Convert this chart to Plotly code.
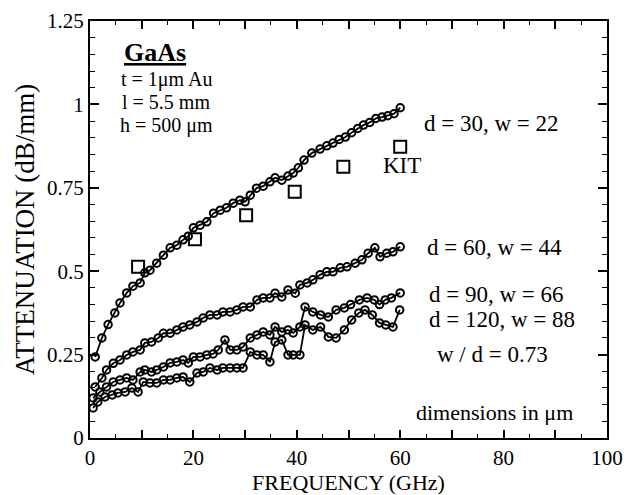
import plotly.graph_objects as go

# ---- data ----
f30 = [1.0, 2.3, 3.5, 4.8, 5.8, 7.1, 8.3, 9.7, 10.6, 11.6, 12.9, 14.2, 15.5, 16.8, 18.0, 19.0, 20.0,
       21.3, 22.6, 23.9, 25.2, 26.4, 27.7, 29.0, 30.0, 31.0, 32.2, 33.5, 34.8, 35.8, 37.1, 38.3, 39.3,
       40.3, 41.4, 42.9, 44.5, 45.8, 47.0, 48.2, 49.4, 50.6, 51.8, 52.9, 54.1, 55.3, 56.5, 57.6, 58.8, 60.0]
a30 = [0.243, 0.30, 0.34, 0.375, 0.405, 0.435, 0.455, 0.465, 0.495, 0.503, 0.524, 0.548, 0.57, 0.578,
       0.594, 0.605, 0.63, 0.638, 0.648, 0.674, 0.683, 0.69, 0.704, 0.713, 0.708, 0.728, 0.749, 0.755,
       0.768, 0.78, 0.773, 0.785, 0.794, 0.81, 0.833, 0.854, 0.866, 0.876, 0.884, 0.895, 0.902, 0.915,
       0.928, 0.938, 0.946, 0.958, 0.962, 0.966, 0.972, 0.99]

f60 = [1.0, 2.3, 3.2, 4.5, 5.8, 7.1, 8.3, 9.7, 10.6, 11.9, 13.2, 14.2, 15.5, 16.8, 18.0, 19.3, 20.7,
       21.9, 23.2, 24.6, 25.7, 27.1, 28.4, 29.6, 31.0, 32.3, 33.5, 34.8, 35.8, 37.1, 38.3, 39.7, 40.6,
       42.0, 43.1, 44.5, 45.8, 47.0, 48.4, 49.7, 51.3, 52.6, 53.8, 55.1, 56.1, 57.4, 58.6, 60.0]
a60 = [0.153, 0.18, 0.204, 0.224, 0.234, 0.249, 0.258, 0.264, 0.285, 0.288, 0.30, 0.314, 0.314, 0.324,
       0.333, 0.339, 0.348, 0.36, 0.369, 0.369, 0.378, 0.378, 0.384, 0.393, 0.393, 0.414, 0.42, 0.42,
       0.434, 0.423, 0.444, 0.434, 0.459, 0.465, 0.474, 0.489, 0.498, 0.498, 0.51, 0.513, 0.524, 0.534,
       0.554, 0.57, 0.543, 0.554, 0.558, 0.573]

f90 = [0.6, 1.9, 3.2, 4.5, 5.8, 7.1, 8.3, 9.7, 10.6, 11.9, 12.9, 14.2, 15.5, 16.8, 18.0, 19.0, 20.0,
       21.3, 22.6, 23.8, 24.8, 26.1, 27.1, 28.4, 29.6, 31.0, 32.3, 33.5, 34.8, 35.8, 37.1, 38.3, 39.3,
       40.6, 41.6, 43.1, 44.6, 46.1, 47.6, 49.2, 50.4, 52.1, 53.6, 55.0, 56.0, 57.1, 58.3, 60.0]
a90 = [0.12, 0.138, 0.153, 0.168, 0.174, 0.18, 0.174, 0.198, 0.204, 0.198, 0.204, 0.213, 0.225, 0.228,
       0.234, 0.225, 0.243, 0.243, 0.249, 0.252, 0.264, 0.294, 0.264, 0.264, 0.273, 0.30, 0.309, 0.318,
       0.309, 0.333, 0.318, 0.324, 0.315, 0.333, 0.393, 0.378, 0.369, 0.363, 0.384, 0.39, 0.40, 0.414,
       0.42, 0.414, 0.40, 0.414, 0.42, 0.435]

f120 = [0.6, 1.5, 2.9, 4.3, 5.4, 6.8, 8.1, 9.3, 10.3, 11.6, 12.9, 14.2, 15.5, 16.8, 18.0, 19.3, 20.7,
        21.9, 23.2, 24.6, 25.7, 27.1, 28.4, 29.6, 31.0, 32.3, 33.5, 34.8, 35.8, 37.1, 38.3, 39.3, 40.6,
        41.6, 43.1, 44.6, 46.1, 47.6, 49.2, 50.6, 52.0, 53.2, 54.6, 56.0, 57.2, 58.6, 59.9]
a120 = [0.09, 0.108, 0.123, 0.129, 0.135, 0.138, 0.15, 0.138, 0.168, 0.165, 0.165, 0.174, 0.174, 0.18,
        0.183, 0.168, 0.195, 0.198, 0.21, 0.204, 0.21, 0.21, 0.21, 0.21, 0.258, 0.249, 0.249, 0.228,
        0.288, 0.294, 0.249, 0.249, 0.249, 0.339, 0.324, 0.333, 0.303, 0.30, 0.324, 0.354, 0.375, 0.384,
        0.369, 0.345, 0.339, 0.333, 0.384]

f_kit = [9.3, 20.3, 30.2, 39.6, 49.0, 60.0]
a_kit = [0.513, 0.596, 0.668, 0.738, 0.813, 0.873]

x_ticks = [0, 10, 20, 30, 40, 50, 60, 70, 80, 90, 100]
x_ticktext = ["0", "", "20", "", "40", "", "60", "", "80", "", "100"]
y_ticks = [0, 0.25, 0.5, 0.75, 1.0, 1.25]
y_ticktext = ["0", "0.25", "0.5", "0.75", "1", "1.25"]

FONT = "Liberation Serif"

fig = go.Figure()
circ = dict(symbol="circle-open", size=7.5, color="black", line=dict(width=2, color="black"))
for name, fx, ay in [("d = 30, w = 22", f30, a30), ("d = 60, w = 44", f60, a60),
                     ("d = 90, w = 66", f90, a90), ("d = 120, w = 88", f120, a120)]:
    fig.add_trace(go.Scatter(x=fx, y=ay, mode="lines+markers", name=name,
                             line=dict(color="black", width=1.8), marker=circ))
fig.add_trace(go.Scatter(x=f_kit, y=a_kit, mode="markers", name="KIT",
                         marker=dict(symbol="square-open", size=12, color="black",
                                     line=dict(width=2, color="black"))))

ann = [
    ("<b><u>GaAs</u></b>", 12.6, 1.157, 26),
    ("t = 1μm Au", 14.7, 1.076, 20),
    ("l = 5.5 mm", 14.7, 1.007, 20),
    ("h = 500 μm", 14.7, 0.938, 20),
    ("d = 30, w = 22", 77.6, 0.944, 23),
    ("KIT", 60.3, 0.818, 23),
    ("d = 60, w = 44", 78.3, 0.570, 23),
    ("d = 90, w = 66", 78.7, 0.429, 23),
    ("d = 120, w = 88", 79.7, 0.354, 23),
    ("w / d = 0.73", 77.9, 0.249, 23),
    ("dimensions in μm", 78.3, 0.075, 22),
]
for t, x, y, s in ann:
    fig.add_annotation(x=x, y=y, text=t, showarrow=False, xref="x", yref="y",
                       font=dict(family=FONT, size=s, color="black"))

axis_common = dict(showgrid=False, zeroline=False, showline=True, linecolor="black", linewidth=2,
                   mirror="allticks", ticks="inside", tickcolor="black", tickwidth=1.5,
                   automargin=False, tickfont=dict(family=FONT, size=21, color="black"))
fig.update_xaxes(range=[0, 100], tickmode="array", tickvals=x_ticks, ticktext=x_ticktext, ticklen=8,
                 minor=dict(dtick=5, ticklen=4, ticks="inside", tickcolor="black", tickwidth=1.2),
                 title=dict(text="FREQUENCY (GHz)", font=dict(family=FONT, size=22, color="black"),
                            standoff=6),
                 **axis_common)
fig.update_yaxes(range=[0, 1.25], tickmode="array", tickvals=y_ticks, ticktext=y_ticktext, ticklen=9,
                 minor=dict(dtick=0.05, ticklen=5, ticks="inside", tickcolor="black", tickwidth=1.2),
                 title=dict(text="ATTENUATION (dB/mm)", font=dict(family=FONT, size=27, color="black"),
                            standoff=5),
                 **axis_common)
fig.update_layout(width=626, height=495, margin=dict(l=90, r=19, t=21, b=57),
                  plot_bgcolor="white", paper_bgcolor="white", showlegend=False,
                  font=dict(family=FONT, color="black"))
fig.write_html("out.html")
